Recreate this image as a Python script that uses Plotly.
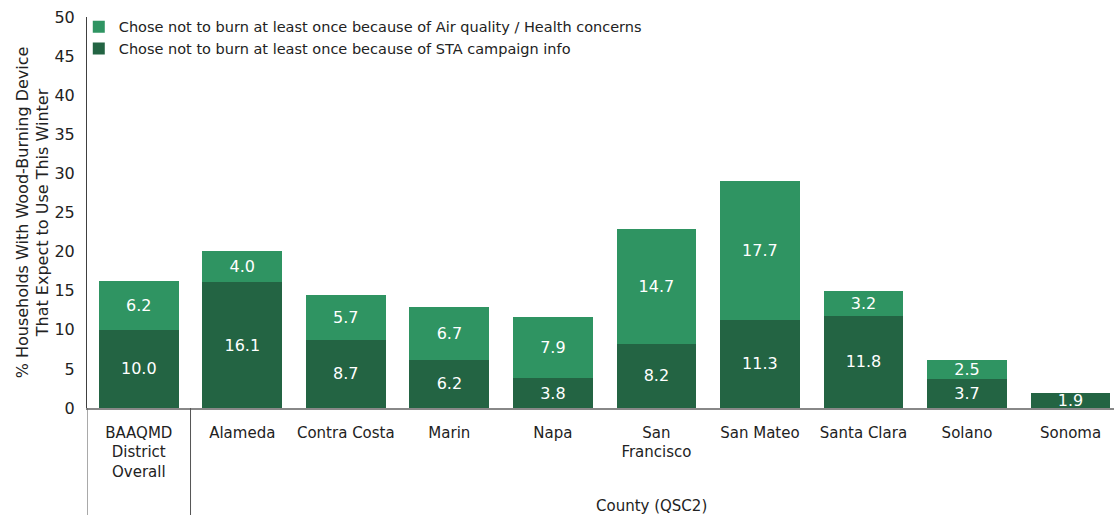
import plotly.graph_objects as go

categories = ["BAAQMD<br>District<br>Overall", "Alameda", "Contra Costa", "Marin", "Napa",
              "San<br>Francisco", "San Mateo", "Santa Clara", "Solano", "Sonoma"]
sta_campaign = [10.0, 16.1, 8.7, 6.2, 3.8, 8.2, 11.3, 11.8, 3.7, 1.9]
air_quality = [6.2, 4.0, 5.7, 6.7, 7.9, 14.7, 17.7, 3.2, 2.5, None]

DARK = "#236443"
LIGHT = "#2f9462"
FONT = "DejaVu Sans"
xs = list(range(len(categories)))

fig = go.Figure()
fig.add_trace(go.Bar(
    x=xs, y=sta_campaign, name="Chose not to burn at least once because of STA campaign info",
    marker=dict(color=DARK, line=dict(width=0)), text=[f"{v:.1f}" for v in sta_campaign],
    textposition="inside", insidetextanchor="middle",
    textfont=dict(color="white", size=16, family=FONT),
))
fig.add_trace(go.Bar(
    x=xs, y=air_quality, name="Chose not to burn at least once because of Air quality / Health concerns",
    marker=dict(color=LIGHT, line=dict(width=0)),
    text=[f"{v:.1f}" if v is not None else "" for v in air_quality],
    textposition="inside", insidetextanchor="middle",
    textfont=dict(color="white", size=16, family=FONT),
))

fig.update_layout(
    width=1114, height=515,
    margin=dict(l=87, r=0, t=17, b=107),
    barmode="stack", bargap=0.23,
    plot_bgcolor="white", paper_bgcolor="white",
    font=dict(family=FONT, color="#222222", size=14),
    uniformtext=dict(minsize=16, mode="show"),
    legend=dict(x=-0.008, y=1.016, xanchor="left", yanchor="top", traceorder="reversed",
                bgcolor="rgba(0,0,0,0)", font=dict(size=14.5, family=FONT),
                itemwidth=30, tracegroupgap=0),
    showlegend=True,
)
fig.update_xaxes(
    range=[-0.5, 9.42], tickvals=xs, ticktext=categories,
    showline=True, linecolor="#888888", linewidth=1.5,
    ticks="", tickfont=dict(size=15, family=FONT), showgrid=False, zeroline=False,
    ticklabelstandoff=10,
)
fig.update_yaxes(
    range=[0, 50], dtick=5, showline=True, linecolor="#404040", linewidth=1,
    ticks="", tickfont=dict(size=16, family=FONT), showgrid=False, zeroline=False,
    ticklabelstandoff=8,
    title=dict(text="% Households With Wood-Burning Device<br>That Expect to Use This Winter",
               font=dict(size=16, family=FONT), standoff=1),
)

# Group dividers below the x axis
for xv in [-0.5, 0.5]:
    fig.add_shape(type="line", xref="x", yref="paper", x0=xv, x1=xv, y0=0, y1=-0.28,
                  line=dict(color="#555555", width=1))
fig.add_annotation(text="County (QSC2)", xref="x", yref="paper", x=4.95, y=-0.25,
                   showarrow=False, yanchor="middle", font=dict(size=15, family=FONT))

fig.write_html("out.html")
